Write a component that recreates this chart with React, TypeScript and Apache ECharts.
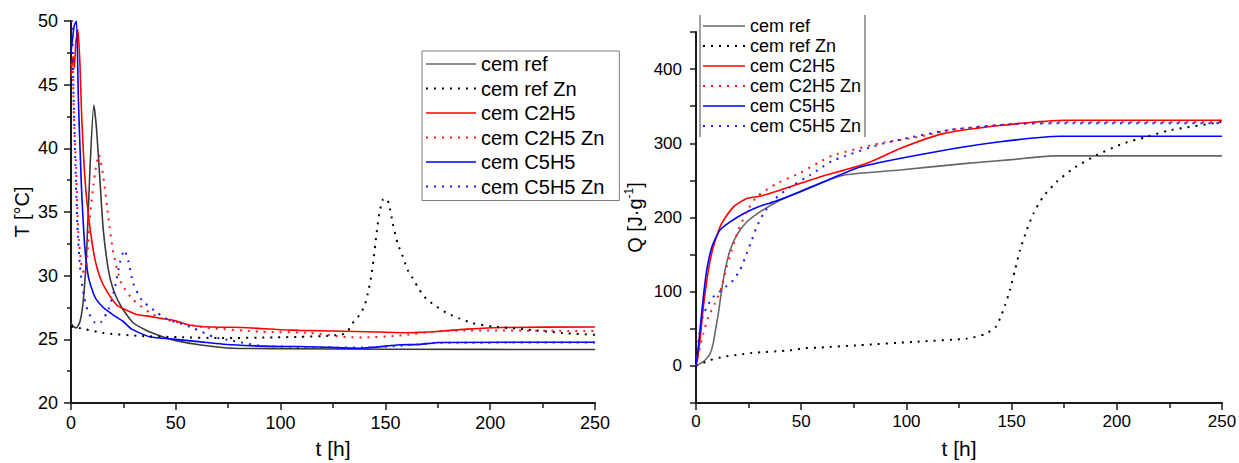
import React, { useEffect, useRef } from 'react';
import * as echarts from 'echarts';

const seriesNames = ['cem ref', 'cem ref Zn', 'cem C2H5', 'cem C2H5 Zn', 'cem C5H5', 'cem C5H5 Zn'];

// Left: temperature T [°C] vs t [h]
const cemRefT = [[0,26.3],[1.2,26.0],[2.6,25.9],[4.3,26.4],[5.9,28.1],[7.5,32],[9.1,38.6],[10.9,43.4],[12.2,41.5],[13.8,37.5],[15.4,33.6],[17.8,30.5],[20.2,28.9],[24.2,27.5],[29.7,26.3],[36,25.7],[43,25.25],[50,24.9],[62,24.56],[77,24.3],[100,24.27],[150,24.22],[250,24.2]];
const cemRefZnT = [[0,26.0],[6.7,25.8],[15.3,25.5],[32.4,25.27],[51.3,25.17],[71.8,25.1],[97.5,25.15],[109,25.2],[119.8,25.25],[128,25.35],[131.3,25.5],[134.4,26.27],[137.6,26.9],[140,27.6],[141.6,28.6],[143.2,29.9],[144.3,31.2],[145.2,32.5],[146,33.6],[147.1,34.9],[148.7,35.95],[150,36.1],[151.6,35.7],[153.5,34.1],[155.9,32.5],[158.3,31.5],[160.6,30.45],[163,29.8],[166.2,28.9],[169.4,28.2],[173.3,27.7],[178.9,27.1],[185.2,26.65],[191.6,26.27],[201,26.0],[215.7,25.8],[234.5,25.5],[250,25.35]];
const cemC2H5T = [[0,45.6],[0.6,46.8],[1.1,47.2],[1.6,46.3],[2.3,48.3],[3.3,49.3],[4.3,46.5],[5.1,42.5],[6.7,37.5],[8.7,34.2],[11.4,31.3],[14,29.8],[17,28.8],[21.8,27.7],[25,27.4],[31.3,26.95],[37.6,26.8],[42.5,26.65],[50,26.45],[56.8,26.1],[71,25.95],[77,25.95],[101,25.75],[109,25.7],[141,25.6],[160,25.52],[166,25.55],[173,25.6],[189,25.8],[205,25.93],[250,25.97]];
const cemC2H5ZnT = [[0,46.5],[0.7,46.9],[1.4,42.5],[2.4,38.6],[3.5,33.4],[5.1,30.7],[6.7,30.0],[7.8,31.5],[9,34.6],[11.4,38.0],[13.3,39.5],[15.4,37.8],[17.8,34.6],[20.2,31.8],[24,29.4],[29.7,28.1],[37.6,27.1],[44,26.6],[63.3,25.95],[90.7,25.6],[114,25.5],[131.7,25.17],[140,25.15],[157,25.3],[173,25.6],[189,25.7],[250,25.65]];
const cemC5H5T = [[0,47.5],[1.5,49.6],[2.6,50],[3.5,44],[4.3,40],[5.1,36.5],[5.9,34],[6.7,32],[8.3,29.9],[10.7,28.6],[12.2,28.1],[15.4,27.5],[18.6,27.1],[20.2,26.9],[24.9,26.4],[29,25.8],[37.6,25.2],[50,25.0],[62,24.8],[77,24.57],[101,24.44],[109,24.44],[138,24.3],[157,24.57],[166,24.6],[176,24.75],[250,24.77]];
const cemC5H5ZnT = [[0,50],[0.5,50],[1.1,45.1],[2.1,38.6],[3.2,33.4],[4.3,30.7],[5.9,28.6],[8.3,27.1],[11.4,26.3],[13,26.2],[14.6,26.4],[17.8,27.3],[21,29.1],[23.3,31.0],[25.4,32.0],[27.3,31.2],[29.7,29.4],[33.7,28.1],[41.4,27.05],[47,26.5],[51.3,26.3],[58.1,25.9],[68.4,25.17],[77,24.9],[90,24.5],[110,24.4],[140,24.35],[157,24.5],[176,24.72],[250,24.75]];

// Right: heat Q [J·g-1] vs t [h]
const cemRefQ = [[0,0],[2,3],[4.3,7.7],[6.7,16.7],[8,28],[9,43.7],[10.6,70.6],[12.2,102],[13.8,129],[16.2,156],[19.3,176],[24.1,194],[30.4,207.5],[38.4,221],[49.4,235],[58.9,246],[70,257],[97,264],[128.7,273],[150,278],[170,283],[250,283]];
const cemRefZnQ = [[0,0],[6.7,7.7],[12.8,12.1],[20.9,15.4],[26.5,17.5],[44.7,21],[52,24],[58.9,24.8],[77.7,27.9],[103,32.3],[128.9,36.9],[137.3,42.7],[142.5,52.6],[144.5,63.9],[146.9,81.8],[149.2,102],[151.6,129],[154,156],[157.2,183],[160.3,205],[165,228],[171.4,248],[179.3,266],[190.4,284],[203,299.7],[214.2,308.6],[225.3,317.7],[250,328.8]];
const cemC2H5Q = [[0,0],[1,15],[1.9,34.6],[3.5,79.5],[5.9,129],[8.2,160],[12.2,192],[17.7,214],[24.1,225.6],[30.4,228.7],[39.9,236.8],[49.4,245.8],[58.9,254.7],[81,272.8],[97,293],[117.5,313],[144.5,324],[176,331],[250,331]];
const cemC2H5ZnQ = [[0,0],[1,12],[1.9,25.6],[3.5,43.7],[5.9,66],[9,84],[12.2,106.5],[14.6,133],[17,156],[20.1,183],[24.1,207.5],[28.8,227.8],[38.4,245.8],[49.4,260],[58.9,275],[65.3,284],[87.5,300],[106.5,309],[120.7,318],[152.4,326.7],[180,328.5],[250,328.5]];
const cemC5H5Q = [[0,0],[1,22],[1.9,48],[3.5,93],[5.1,129],[7.5,160],[11.4,183],[16.2,194],[22.5,205],[28.8,213.5],[36.7,221],[49.4,234.5],[58.9,245.8],[78,268],[112.8,288],[144.5,302],[173,309.6],[250,309.6]];
const cemC5H5ZnQ = [[0,0],[1,30],[2.7,61.6],[5.1,79.5],[8.2,93],[13,104],[17.7,115.5],[20.9,129],[24.1,151.5],[26.5,169.4],[28.8,187],[32,205],[36.7,223],[44.7,241],[54.2,257],[58.9,266],[65.3,277],[89,299.7],[120.7,318],[152.4,326],[180,327],[250,327]];

const FONT = "'Liberation Sans', Arial, sans-serif";
const DOT: number[] = [2, 6];

const styleOf = (i: number, leftChart: boolean) => {
  const colors = [leftChart ? '#3a3a3a' : '#666666', '#000000', '#ff0000', '#ff1a1a', '#0000ff', '#1a1aff'];
  const dotted = i % 2 === 1;
  return {
    color: colors[i],
    width: dotted ? 2 : 1.6,
    type: dotted ? DOT : 'solid',
  };
};

export default function App() {
  const ref = useRef<HTMLDivElement>(null);
  useEffect(() => {
    if (!ref.current) return;
    const chart = echarts.init(ref.current, null, { renderer: 'svg' });
    const leftData = [cemRefT, cemRefZnT, cemC2H5T, cemC2H5ZnT, cemC5H5T, cemC5H5ZnT];
    const rightData = [cemRefQ, cemRefZnQ, cemC2H5Q, cemC2H5ZnQ, cemC5H5Q, cemC5H5ZnQ];
    const mk = (data: number[][], i: number, idx: number) => {
      const ls = styleOf(i, idx === 0);
      return {
        name: seriesNames[i],
        type: 'line',
        xAxisIndex: idx,
        yAxisIndex: idx,
        data,
        symbol: 'none',
        showSymbol: false,
        smooth: 0.2,
        lineStyle: { color: ls.color, width: ls.width, type: ls.type, cap: 'butt' },
        itemStyle: { color: ls.color },
        z: i % 2 === 1 ? 3 : 2,
      };
    };
    const legendData = seriesNames.map((n, i) => {
      const ls = styleOf(i, false);
      return {
        name: n,
        lineStyle: { color: ls.color, width: ls.width, type: ls.type },
        itemStyle: { opacity: 0, color: 'rgba(0,0,0,0)', borderWidth: 0 },
      };
    });
    const axisLineStyle = { color: '#1a1a1a', width: 2 };
    const xAxisBase = {
      type: 'value',
      min: 0,
      max: 250,
      interval: 50,
      axisLine: { show: true, onZero: false, lineStyle: axisLineStyle },
      axisTick: { show: true, inside: false, length: 7, lineStyle: { color: '#1a1a1a', width: 1.5 } },
      minorTick: { show: true, splitNumber: 2, length: 5, lineStyle: { color: '#1a1a1a', width: 1.5 } },
      splitLine: { show: false },
      nameLocation: 'middle',
      nameTextStyle: { fontSize: 21, fontFamily: FONT, color: '#000' },
    };
    const option = {
      animation: false,
      backgroundColor: '#ffffff',
      textStyle: { fontFamily: FONT },
      grid: [
        { left: 71, top: 21, width: 524, height: 382, outerBoundsMode: 'none', containLabel: false },
        { left: 696, top: 32, width: 526, height: 371, outerBoundsMode: 'none', containLabel: false },
      ],
      xAxis: [
        {
          ...xAxisBase,
          gridIndex: 0,
          name: 't [h]',
          nameGap: 35,
          axisLabel: { fontSize: 18, fontFamily: FONT, color: '#000', margin: 11 },
        },
        {
          ...xAxisBase,
          gridIndex: 1,
          name: 't [h]',
          nameGap: 35,
          axisLabel: { fontSize: 17, fontFamily: FONT, color: '#000', margin: 10 },
        },
      ],
      yAxis: [
        {
          type: 'value',
          gridIndex: 0,
          min: 20,
          max: 50,
          interval: 5,
          name: 'T [°C]',
          nameLocation: 'middle',
          nameGap: 39,
          nameTextStyle: { fontSize: 20, fontFamily: FONT, color: '#000' },
          axisLine: { show: true, lineStyle: axisLineStyle },
          axisTick: { show: true, length: 7, lineStyle: { color: '#1a1a1a', width: 1.5 } },
          minorTick: { show: true, splitNumber: 2, length: 4, lineStyle: { color: '#1a1a1a', width: 1.5 } },
          splitLine: { show: false },
          axisLabel: { fontSize: 18, fontFamily: FONT, color: '#000', margin: 13 },
        },
        {
          type: 'value',
          gridIndex: 1,
          min: -50,
          max: 450,
          interval: 50,
          name: 'Q [J·g{sup|-1}]',
          nameLocation: 'middle',
          nameGap: 49,
          nameTextStyle: {
            fontSize: 20,
            fontFamily: FONT,
            color: '#000',
            lineHeight: 24,
            rich: { sup: { fontSize: 12, fontFamily: FONT, color: '#000', verticalAlign: 'top', lineHeight: 14 } },
          },
          axisLine: { show: true, lineStyle: axisLineStyle },
          axisTick: { show: true, length: 6, lineStyle: { color: '#1a1a1a', width: 1.5 } },
          splitLine: { show: false },
          axisLabel: {
            fontSize: 17,
            fontFamily: FONT,
            color: '#000',
            margin: 14,
            formatter: (v: number) => (v >= 0 && v % 100 === 0 && v <= 400 ? String(v) : ''),
          },
        },
      ],
      legend: [
        {
          orient: 'vertical',
          left: 422,
          top: 51,
          padding: [3, 15, 4, 3],
          itemGap: 4.5,
          itemWidth: 50,
          itemHeight: 14,
          borderColor: '#7f7f7f',
          borderWidth: 1,
          backgroundColor: '#ffffff',
          itemStyle: { opacity: 0 },
          data: legendData,
          textStyle: { fontSize: 20, lineHeight: 20, fontFamily: FONT, color: '#000' },
        },
        {
          orient: 'vertical',
          left: 702,
          top: 16,
          padding: 0,
          itemGap: 0,
          itemWidth: 42,
          itemHeight: 14,
          itemStyle: { opacity: 0 },
          data: legendData,
          textStyle: { fontSize: 18, lineHeight: 20, fontFamily: FONT, color: '#000' },
        },
      ],
      graphic: [
        { type: 'line', shape: { x1: 700, y1: 15, x2: 700, y2: 137 }, style: { stroke: '#444', lineWidth: 1 }, z: 10 },
        { type: 'line', shape: { x1: 865, y1: 15, x2: 865, y2: 137 }, style: { stroke: '#444', lineWidth: 1 }, z: 10 },
      ],
      series: [
        ...leftData.map((d, i) => mk(d, i, 0)),
        ...rightData.map((d, i) => mk(d, i, 1)),
      ],
    };
    chart.setOption(option as any);
    return () => chart.dispose();
  }, []);
  return <div ref={ref} style={{ position: 'absolute', left: 0, top: 0, width: 1239, height: 463 }} />;
}
